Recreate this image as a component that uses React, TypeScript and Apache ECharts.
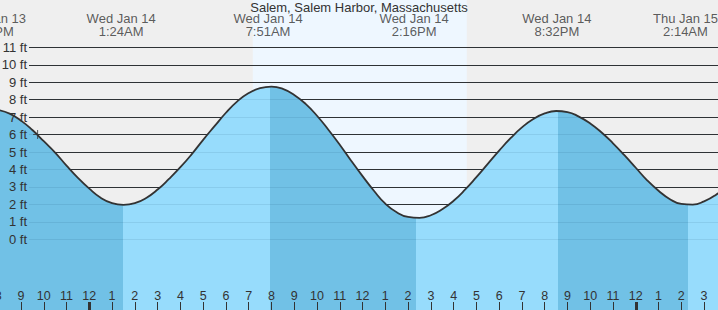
import React, { useEffect, useRef } from "react";
import * as echarts from "echarts";

const FONT = "'Liberation Sans', Arial, sans-serif";
const TITLE = "Salem, Salem Harbor, Massachusetts";

// Tide curve: hours from midnight Wed Jan 14, height in ft
const TIDE_HOURS = [
  -4.0, -3.5, -3.0, -2.5, -2.0, -1.5, -1.0, -0.5, 0.0, 0.5, 1.0, 1.5, 2.0, 2.5,
  3.0, 3.5, 4.0, 4.5, 5.0, 5.5, 6.0, 6.5, 7.0, 7.5, 8.0, 8.5, 9.0, 9.5, 10.0,
  10.5, 11.0, 11.5, 12.0, 12.5, 13.0, 13.5, 14.0, 14.5, 15.0, 15.5, 16.0, 16.5,
  17.0, 17.5, 18.0, 18.5, 19.0, 19.5, 20.0, 20.5, 21.0, 21.5, 22.0, 22.5, 23.0,
  23.5, 24.0, 24.5, 25.0, 25.5, 26.0, 26.5, 27.0, 27.5, 28.0,
];
const TIDE_FT = [
  7.41, 7.2, 6.8, 6.26, 5.62, 4.97, 4.22, 3.52, 2.9, 2.38, 2.07, 1.97, 2.07, 2.37,
  2.85, 3.46, 4.13, 4.88, 5.7, 6.48, 7.25, 7.9, 8.38, 8.66, 8.75, 8.62, 8.27, 7.76, 7.08,
  6.28, 5.42, 4.5, 3.62, 2.78, 2.04, 1.55, 1.28, 1.23, 1.38, 1.72, 2.21, 2.84,
  3.56, 4.32, 5.08, 5.79, 6.41, 6.89, 7.21, 7.35, 7.29, 7.03, 6.64, 6.12, 5.5,
  4.82, 4.1, 3.38, 2.78, 2.3, 2.03, 1.99, 2.17, 2.53, 3.07,
];

// High / low tide labels
const EXTREME_HOURS = [-4.3, 1.4, 7.85, 14.267, 20.533, 26.233];
const EXTREME_DATES = ["Wed Jan 13", "Wed Jan 14", "Wed Jan 14", "Wed Jan 14", "Wed Jan 14", "Thu Jan 15"];
const EXTREME_TIMES = ["7:42PM", "1:24AM", "7:51AM", "2:16PM", "8:32PM", "2:14AM"];

// Turning points of the drawn curve (falling = darker fill, rising = lighter)
const TURN_HOURS = [1.48, 7.94, 14.35, 20.6, 26.3];
// Daylight (sunrise, sunset)
const DAYLIGHT = [7.18, 16.58];
const MIDNIGHTS = [0, 24];
const MARKER = [-2.27, 6.0];

const DARK = "#71c1e6";
const LIGHT = "#97dcfc";
const WIDTH = 718;

export default function App() {
  const ref = useRef<HTMLDivElement>(null);
  useEffect(() => {
    if (!ref.current) return;
    const chart = echarts.init(ref.current, undefined, { renderer: "svg" });

    const pieces: any[] = [];
    TURN_HOURS.forEach((t, i) => {
      const p: any = { lt: t, color: i % 2 === 0 ? DARK : LIGHT };
      if (i > 0) p.gte = TURN_HOURS[i - 1];
      pieces.push(p);
    });
    pieces.push({
      gte: TURN_HOURS[TURN_HOURS.length - 1],
      color: TURN_HOURS.length % 2 === 0 ? DARK : LIGHT,
    });

    const LABEL_Y = 12.25;
    const hourFmt = (v: number) => {
      const hh = ((Math.round(v) % 24) + 24) % 24;
      const h12 = hh % 12 === 0 ? 12 : hh % 12;
      return String(h12);
    };

    const option: any = {
      animation: false,
      backgroundColor: "#efefef",
      textStyle: { fontFamily: FONT },
      title: {
        text: TITLE,
        left: "center",
        top: 0,
        padding: 0,
        textStyle: { fontSize: 13, fontWeight: "normal", color: "#333", fontFamily: FONT, lineHeight: 14 },
      },
      grid: [
        { left: -1.78, right: -8.86, top: 0, bottom: 0, outerBoundsMode: "none", containLabel: false },
        { left: 29, right: 0, top: 47.3, bottom: 70.7, outerBoundsMode: "none", containLabel: false },
      ],
      visualMap: {
        type: "piecewise",
        show: false,
        dimension: 0,
        seriesIndex: 1,
        pieces,
      },
      xAxis: [
        {
          gridIndex: 0, type: "value", min: -4, max: 28, interval: 1, position: "bottom", z: 5,
          axisLine: { show: false, onZero: false },
          splitLine: { show: false },
          axisTick: { inside: true, length: 8, lineStyle: { color: "#333", width: 1 } },
          axisLabel: { inside: true, margin: 8, fontSize: 12.5, color: "#333", fontFamily: FONT, formatter: hourFmt, showMinLabel: true, showMaxLabel: false },
        },
        {
          gridIndex: 0, type: "value", min: -4, max: 28, position: "bottom", z: 5,
          axisLine: { show: false, onZero: false },
          splitLine: { show: false },
          axisLabel: { show: false },
          axisTick: { inside: true, length: 8, customValues: MIDNIGHTS, lineStyle: { color: "#333", width: 3 } },
        },
        { gridIndex: 1, type: "value", min: 0, max: 1, show: false },
      ],
      yAxis: [
        { gridIndex: 0, type: "value", min: -4.05, max: 13.71, show: false },
        {
          gridIndex: 1, type: "value", min: 0, max: 11, interval: 1, position: "left", z: 1,
          axisLine: { show: false }, axisTick: { show: false }, axisLabel: { show: false },
          splitLine: { lineStyle: { color: "#333", width: 1 } },
        },
        {
          gridIndex: 1, type: "value", min: 0, max: 11, interval: 1, position: "left", z: 5,
          axisLine: { show: false }, axisTick: { show: false },
          axisLabel: { formatter: "{value} ft", margin: 2, fontSize: 13, color: "#333", fontFamily: FONT },
          splitLine: { lineStyle: { color: "rgba(0,40,80,0.09)", width: 1 } },
        },
      ],
      series: [
        {
          type: "line",
          xAxisIndex: 0, yAxisIndex: 0,
          data: [[-4, -10]],
          showSymbol: false,
          lineStyle: { opacity: 0 },
          z: 0,
          silent: true,
          markArea: {
            silent: true,
            z: 0,
            itemStyle: { color: "#eef7ff" },
            data: [[{ xAxis: DAYLIGHT[0] }, { xAxis: DAYLIGHT[1] }]],
          },
        },
        {
          type: "line",
          xAxisIndex: 0, yAxisIndex: 0,
          z: 2,
          smooth: true,
          showSymbol: false,
          silent: true,
          data: TIDE_HOURS.map((h, i) => [h, TIDE_FT[i]]),
          lineStyle: { color: "#333", width: 1.8 },
          areaStyle: { opacity: 1, origin: "start" },
        },
        {
          type: "scatter",
          xAxisIndex: 0, yAxisIndex: 0,
          z: 6,
          silent: true,
          symbol: "path://M4,0H5V4H9V5H5V9H4V5H0V4H4Z",
          symbolSize: 9,
          itemStyle: { color: "#333" },
          data: [MARKER],
        },
        {
          type: "scatter",
          xAxisIndex: 0, yAxisIndex: 0,
          z: 6,
          silent: true,
          clip: false,
          symbolSize: 1,
          itemStyle: { color: "transparent" },
          label: {
            show: true, position: "inside", fontSize: 13, lineHeight: 13, color: "#333", fontFamily: FONT,
          },
          labelLayout: (p: any) => {
            const over = p.labelRect.x + p.labelRect.width - WIDTH;
            return over > 0 ? { dx: -over } : {};
          },
          data: EXTREME_HOURS.map((h, i) => ({
            value: [h, LABEL_Y],
            label: { formatter: EXTREME_DATES[i] + "\n" + EXTREME_TIMES[i] },
          })),
        },
      ],
    };
    chart.setOption(option);
    return () => chart.dispose();
  }, []);
  return (
    <div
      ref={ref}
      style={{ position: "fixed", left: 0, top: 0, width: WIDTH, height: 310 }}
    />
  );
}
